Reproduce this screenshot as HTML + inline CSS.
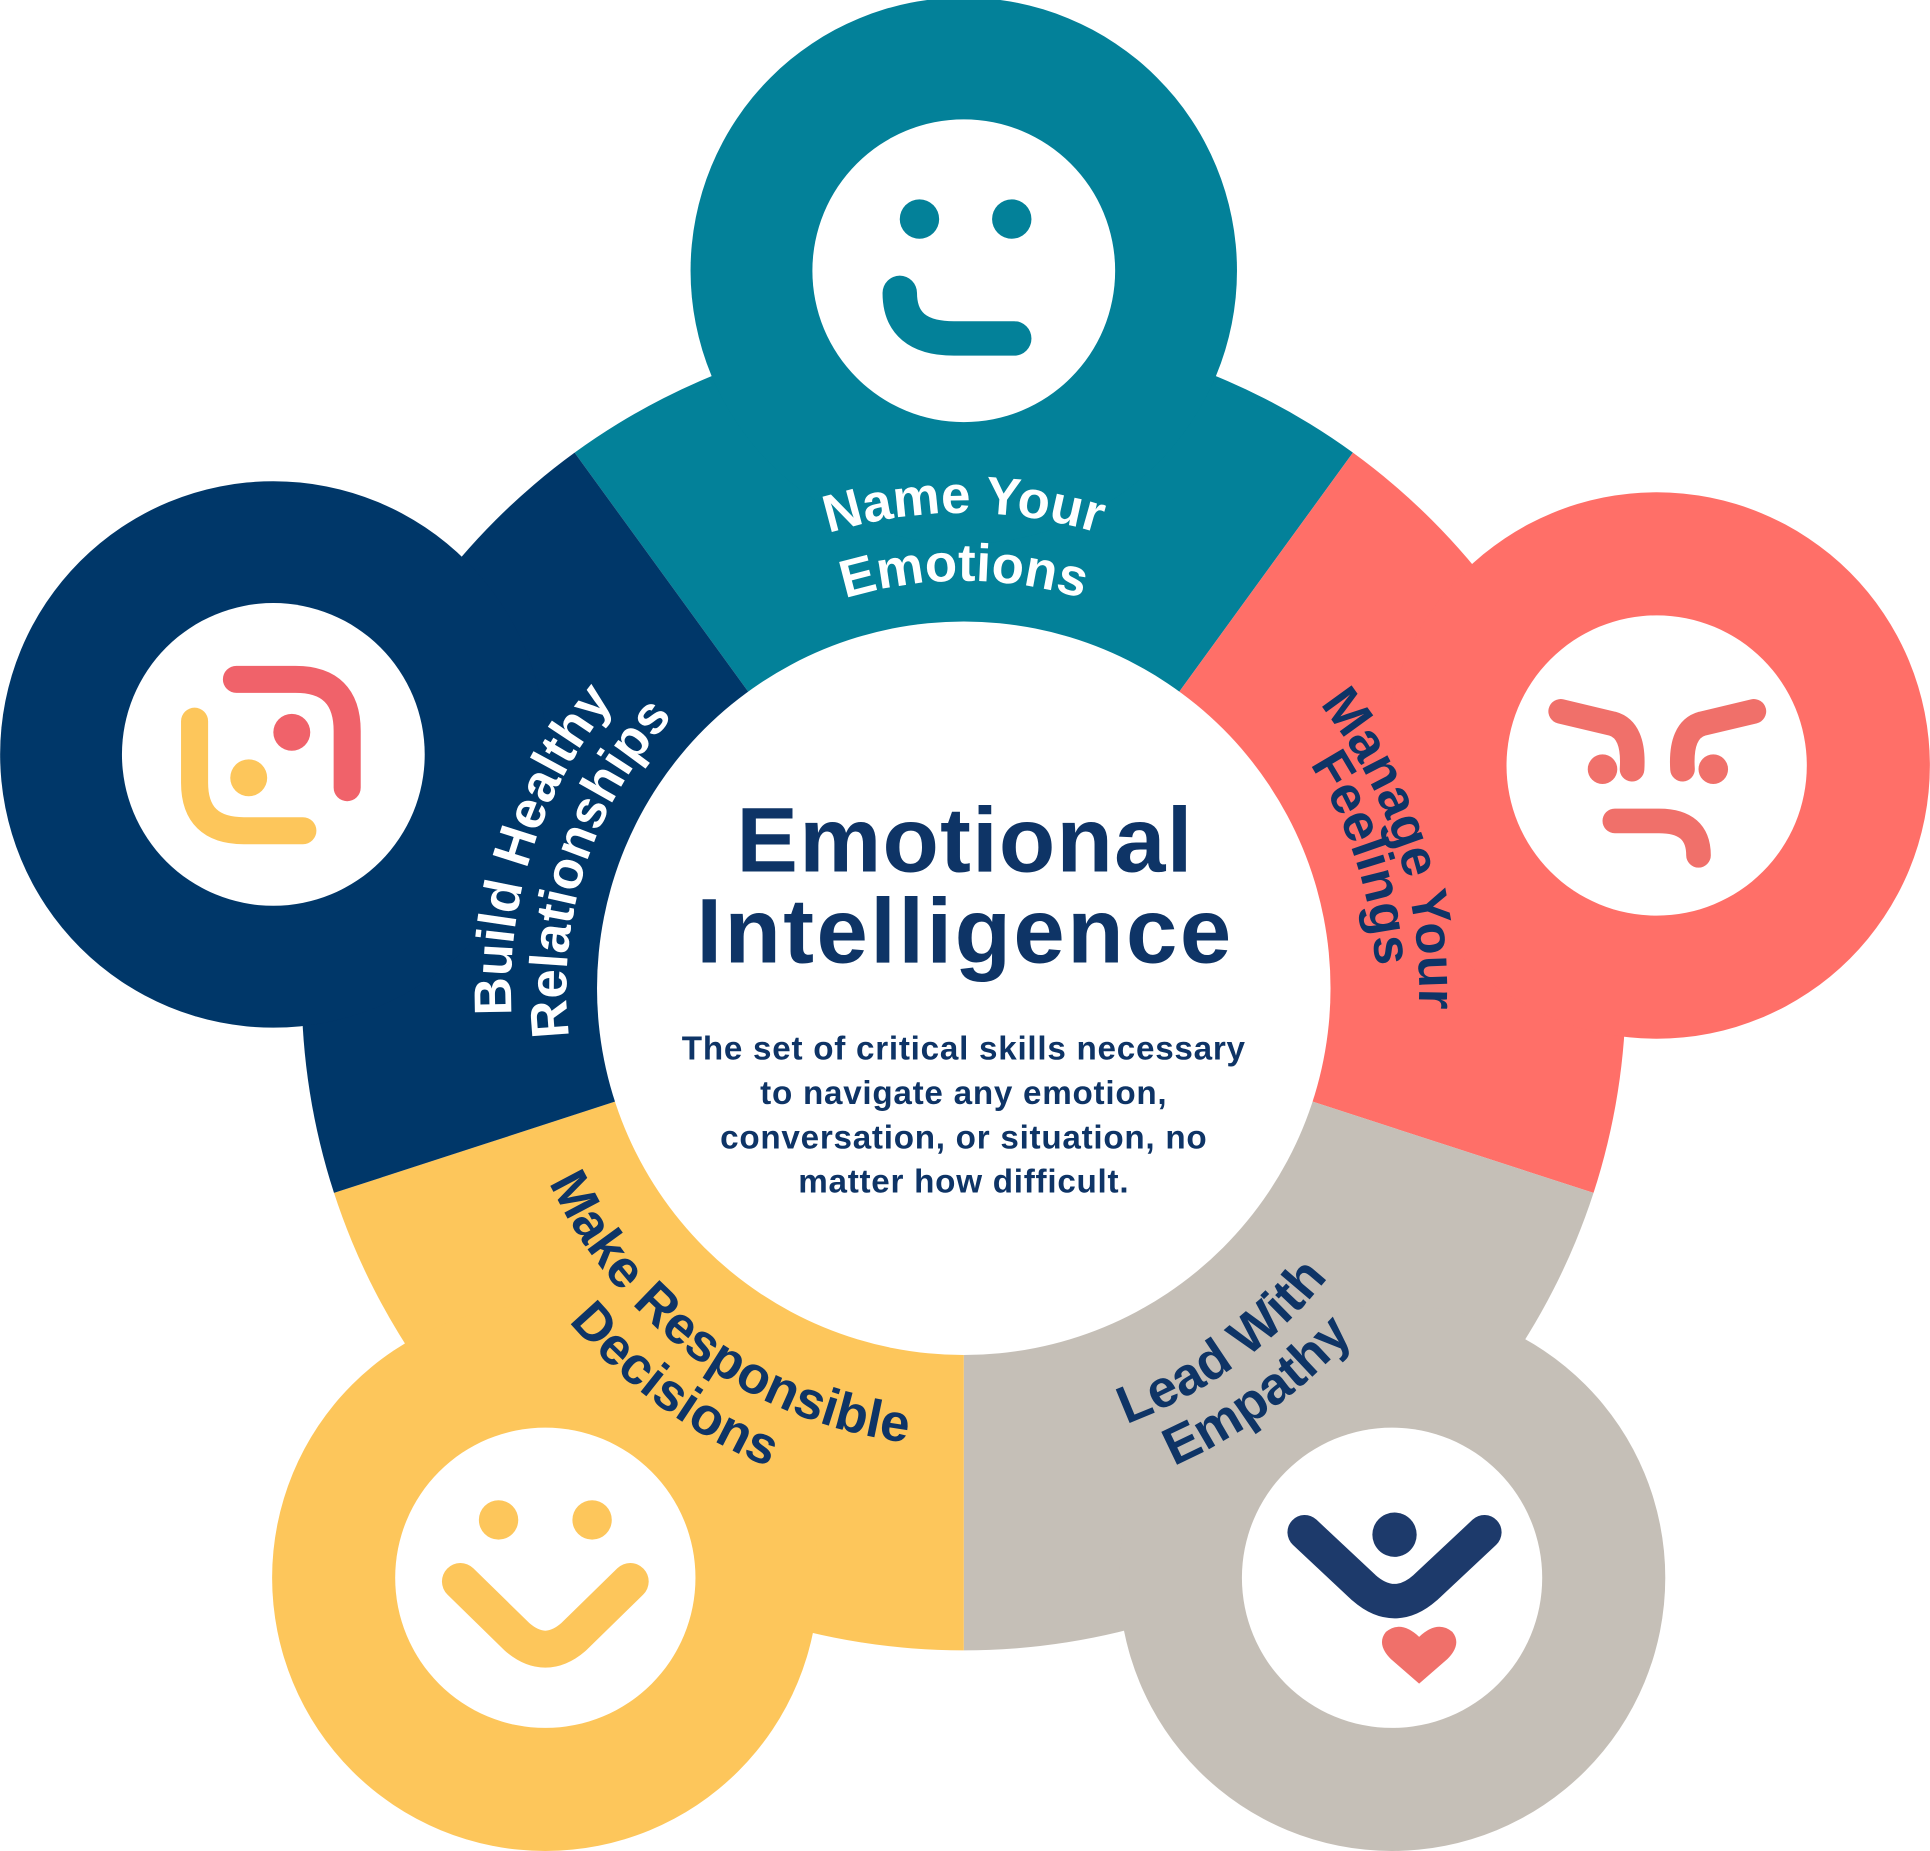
<!DOCTYPE html>
<html><head><meta charset="utf-8">
<style>
html,body{margin:0;padding:0;background:#fff;}
svg{display:block;}
.lbl{font-family:"Liberation Sans",sans-serif;font-weight:bold;font-size:43px;}
</style></head>
<body>
<svg width="1930" height="1851" viewBox="0 0 1568 1504" xmlns="http://www.w3.org/2000/svg">
<defs>
<path id="t1" d="M 454.8 612.5 A 373 373 0 0 1 1111.2 612.5" fill="none"/>
<path id="t2" d="M 496.3 637.5 A 331 331 0 0 1 1069.7 637.5" fill="none"/>
<path id="c1" d="M 859.9 441.1 A 370 370 0 0 1 1057.9 1050.6" fill="none"/>
<path id="c2" d="M 852.6 475.3 A 335 335 0 0 1 1031.9 1027.1" fill="none"/>
<path id="n1" d="M 509.5 1049.2 A 368 368 0 0 1 706.5 443.1" fill="none"/>
<path id="n2" d="M 543.0 1019.1 A 323 323 0 0 1 715.8 487.1" fill="none"/>
<path id="g1" d="M 629.3 1148.3 A 378 378 0 0 0 1158.9 763.5" fill="none"/>
<path id="g2" d="M 610.6 1190.3 A 424 424 0 0 0 1204.7 758.7" fill="none"/>
<path id="y1" d="M 413.0 764.1 A 372 372 0 0 0 934.3 1142.8" fill="none"/>
<path id="y2" d="M 365.3 759.1 A 420 420 0 0 0 953.8 1186.7" fill="none"/>
</defs>

<path d="M783 803 L466.8 367.8 A538 538 0 0 1 1099.2 367.8 Z" fill="#038199"/>
<path d="M783 803 L1099.2 367.8 A538 538 0 0 1 1294.7 969.3 Z" fill="#FF6F68"/>
<path d="M783 803 L1294.7 969.3 A538 538 0 0 1 783 1341 Z" fill="#C5BFB7"/>
<path d="M783 803 L783 1341 A538 538 0 0 1 271.3 969.3 Z" fill="#FDC65B"/>
<path d="M783 803 L271.3 969.3 A538 538 0 0 1 466.8 367.8 Z" fill="#003769"/>

<circle cx="783" cy="220" r="222" fill="#038199"/>
<circle cx="222" cy="613" r="222" fill="#003769"/>
<circle cx="1346" cy="622" r="222" fill="#FF6F68"/>
<circle cx="443" cy="1282" r="222" fill="#FDC65B"/>
<circle cx="1131" cy="1282" r="222" fill="#C5BFB7"/>

<circle cx="783" cy="803" r="298" fill="#fff"/>
<circle cx="783" cy="220" r="123" fill="#fff"/>
<circle cx="222" cy="613" r="123" fill="#fff"/>
<circle cx="1346" cy="622" r="122" fill="#fff"/>
<circle cx="443" cy="1282" r="122" fill="#fff"/>
<circle cx="1131" cy="1282" r="122" fill="#fff"/>

<circle cx="747" cy="178" r="16" fill="#038199"/>
<circle cx="822" cy="178" r="16" fill="#038199"/>
<path d="M731 238 Q731 275 775 275 L824 275" fill="none" stroke="#038199" stroke-width="28" stroke-linecap="round"/>

<path d="M192 552 L240 552 Q282 552 282 594 L282 640" fill="none" stroke="#F0626A" stroke-width="22" stroke-linecap="round"/>
<path d="M158 586 L158 636 Q158 675 198 675 L246 675" fill="none" stroke="#FDC65B" stroke-width="22" stroke-linecap="round"/>
<circle cx="237" cy="595" r="15" fill="#F0626A"/>
<circle cx="202" cy="632" r="15" fill="#FDC65B"/>

<path d="M1268 578 L1310 588 Q1328 593 1326 625" fill="none" stroke="#F0706A" stroke-width="20" stroke-linecap="round" stroke-linejoin="round"/>
<path d="M1425 578 L1383 588 Q1365 593 1367 625" fill="none" stroke="#F0706A" stroke-width="20" stroke-linecap="round" stroke-linejoin="round"/>
<circle cx="1302" cy="625" r="12" fill="#F0706A"/>
<circle cx="1392" cy="625" r="12" fill="#F0706A"/>
<path d="M1312 667 L1348 667 Q1380 667 1380 695" fill="none" stroke="#F0706A" stroke-width="20" stroke-linecap="round"/>

<circle cx="405" cy="1235" r="16" fill="#FDC65B"/>
<circle cx="481" cy="1235" r="16" fill="#FDC65B"/>
<path d="M374 1285 L420 1330 Q443 1350 466 1330 L512 1285" fill="none" stroke="#FDC65B" stroke-width="30" stroke-linecap="round" stroke-linejoin="round"/>

<circle cx="1133" cy="1247" r="18" fill="#1D3A6B"/>
<path d="M1060 1245 L1108 1290 Q1133 1312 1158 1290 L1206 1245" fill="none" stroke="#1D3A6B" stroke-width="28" stroke-linecap="round" stroke-linejoin="round"/>
<path d="M1153 1368 L1130 1348 Q1118 1336 1126 1326 Q1138 1316 1153 1330 Q1168 1316 1180 1326 Q1188 1336 1176 1348 Z" fill="#F0706A"/>

<text x="784" y="708" text-anchor="middle" font-family="Liberation Sans, sans-serif" font-weight="bold" font-size="75" fill="#0E3466" letter-spacing="1">Emotional</text>
<text x="784" y="782" text-anchor="middle" font-family="Liberation Sans, sans-serif" font-weight="bold" font-size="75" fill="#0E3466" letter-spacing="2">Intelligence</text>
<g font-family="Liberation Sans, sans-serif" font-weight="bold" font-size="27" fill="#0E3466" text-anchor="middle" letter-spacing="0.6">
<text x="783" y="861">The set of critical skills necessary</text>
<text x="783" y="897">to navigate any emotion,</text>
<text x="783" y="933">conversation, or situation, no</text>
<text x="783" y="969">matter how difficult.</text>
</g>

<g class="lbl" fill="#fff">
<text><textPath href="#t1" startOffset="50%" text-anchor="middle">Name Your</textPath></text>
<text><textPath href="#t2" startOffset="50%" text-anchor="middle">Emotions</textPath></text>
<text><textPath href="#n1" startOffset="50%" text-anchor="middle">Build Healthy</textPath></text>
<text><textPath href="#n2" startOffset="50%" text-anchor="middle">Relationships</textPath></text>
</g>
<g class="lbl" fill="#0E3466">
<text><textPath href="#c1" startOffset="50%" text-anchor="middle">Manage Your</textPath></text>
<text><textPath href="#c2" startOffset="50%" text-anchor="middle">Feelings</textPath></text>
<text><textPath href="#g1" startOffset="50%" text-anchor="middle">Lead With</textPath></text>
<text><textPath href="#g2" startOffset="50%" text-anchor="middle">Empathy</textPath></text>
<text><textPath href="#y1" startOffset="50%" text-anchor="middle">Make Responsible</textPath></text>
<text><textPath href="#y2" startOffset="50%" text-anchor="middle">Decisions</textPath></text>
</g>
</svg>
</body></html>
